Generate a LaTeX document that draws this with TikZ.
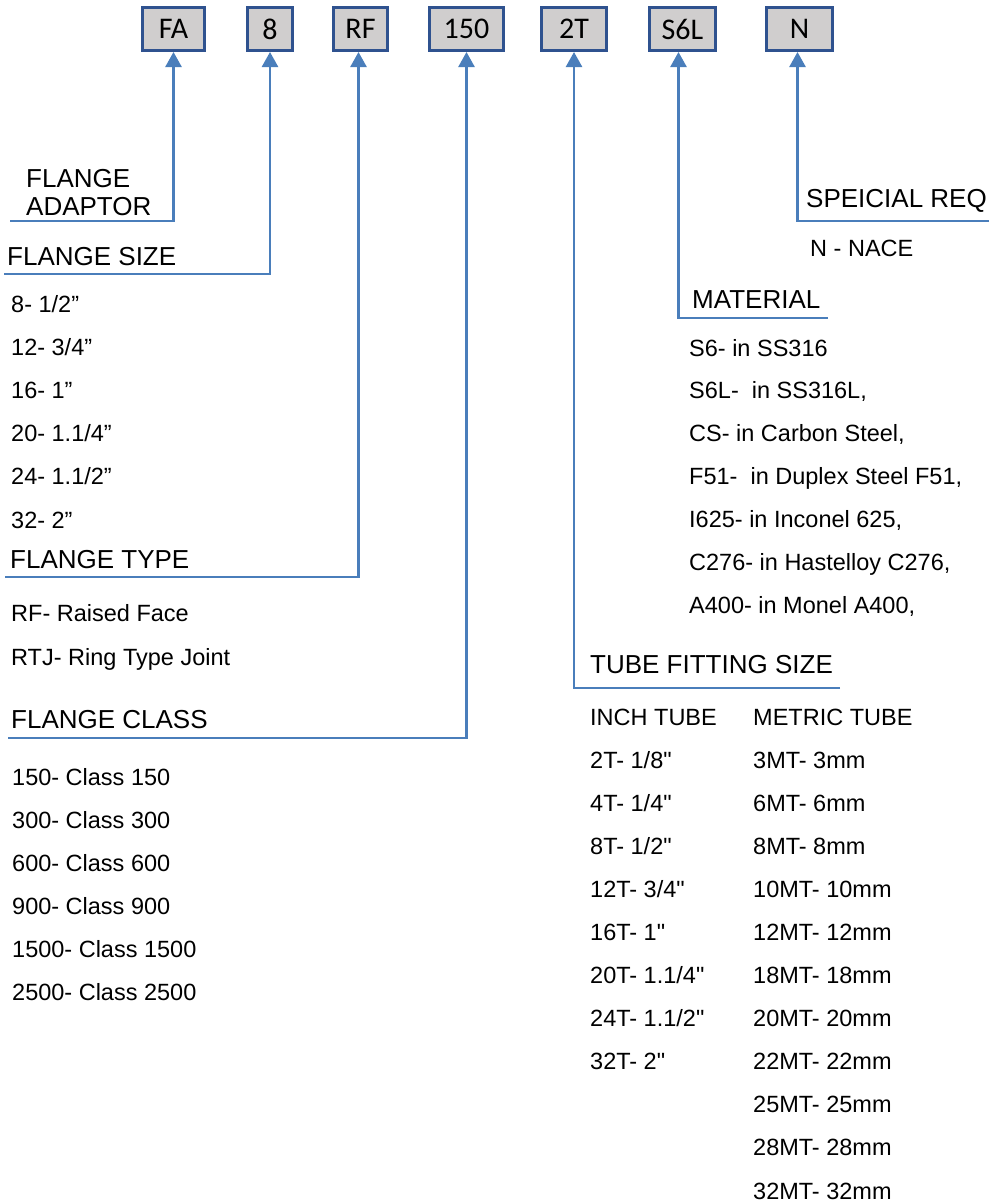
\documentclass[tikz,border=0pt]{standalone}
\usepackage{fontspec}
\usetikzlibrary{arrows.meta}
\newfontfamily\arialf{Liberation Sans}[Ligatures=TeXOff]
\newfontfamily\calf{Carlito}
\definecolor{boxfill}{HTML}{D0CECE}
\definecolor{boxedge}{HTML}{2F528F}
\definecolor{linkblue}{HTML}{4A7EBB}

\begin{document}
\begin{tikzpicture}[x=1pt,y=-1pt,
        codebox/.style={draw=boxedge,line width=3pt,fill=boxfill,minimum height=43pt,inner sep=0pt,font=\calf\fontsize{30}{32}\selectfont},
        link/.style={draw=linkblue,line width=2.5pt,-{Triangle[width=16pt,length=15pt]}},
        head/.style={anchor=base west,inner sep=0pt,align=left,font=\arialf\fontsize{26}{28}\selectfont},
        item/.style={anchor=base west,inner sep=0pt,font=\arialf\fontsize{23.5}{26}\selectfont}]
            \useasboundingbox (0,0) rectangle (1001,1203);
            % code boxes
            \node[codebox,minimum width=62pt] (fa) at (173.5,29) {FA};
            \node[codebox,minimum width=45pt] (sz) at (270,29) {8};
            \node[codebox,minimum width=54pt] (rf) at (360.5,29) {RF};
            \node[codebox,minimum width=74pt] (cl) at (466.5,29) {150};
            \node[codebox,minimum width=65pt] (tt) at (574,29) {2T};
            \node[codebox,minimum width=66pt] (mt) at (682.5,29) {S6L};
            \node[codebox,minimum width=66pt] (nr) at (799.5,29) {N};
            % headings
            \node[head] (hfa) at (26,215) {FLANGE\\ADAPTOR};
            \node[head] (hsz) at (7,265) {FLANGE SIZE};
            \node[head] (hrf) at (10,568) {FLANGE TYPE};
            \node[head] (hcl) at (11,728) {FLANGE CLASS};
            \node[head] (htt) at (590,673) {TUBE FITTING SIZE};
            \node[head] (hmt) at (692,308) {MATERIAL};
            \node[head] (hnr) at (806,207) {SPEICIAL REQ};
            % line ends
            \coordinate (efa) at (10,221);
            \coordinate (esz) at (4,274);
            \coordinate (erf) at (5,577);
            \coordinate (ecl) at (8,738);
            \coordinate (ett) at (840,688);
            \coordinate (emt) at (828,318);
            \coordinate (enr) at (989,221);
            \draw[link] (efa) -| (fa);
            \draw[link] (esz) -| (sz);
            \draw[link] (erf) -| ([xshift=-2pt]rf.south);
            \draw[link] (ecl) -| (cl);
            \draw[link] (ett) -| (tt);
            \draw[link] (emt) -| ([xshift=-4pt]mt.south);
            \draw[link] (enr) -| ([xshift=-2pt]nr.south);
            % lists
            \foreach \t [count=\i] in {8- 1/2”, 12- 3/4”, 16- 1”, 20- 1.1/4”, 24- 1.1/2”, 32- 2”}
                \node[item] (size\i) at (11,{312+43.2*(\i-1)}) {\t};
            \node[item] (type1) at (11,621) {RF- Raised Face};
            \node[item] (type2) at (11,665) {RTJ- Ring Type Joint};
            \foreach \t [count=\i] in {150, 300, 600, 900, 1500, 2500}
                \node[item] (class\i) at (12,{785+43*(\i-1)}) {\t- Class \t};
            \node[item] (nace) at (810,256) {N - NACE};
            \foreach \t [count=\i] in {{S6- in SS316}, {S6L-\ \ in SS316L,}, {CS- in Carbon Steel,}, {F51-\ \ in Duplex Steel F51,}, {I625- in Inconel 625,}, {C276- in Hastelloy C276,}, {A400- in Monel A400,}}
                \node[item] (mat\i) at (689,{356+42.9*(\i-1)}) {\t};
            \node[item] (inch) at (590,725) {INCH TUBE};
            \node[item] (metric) at (753,725) {METRIC TUBE};
            \foreach \t [count=\i] in {2T- 1/8", 4T- 1/4", 8T- 1/2", 12T- 3/4", 16T- 1", 20T- 1.1/4", 24T- 1.1/2", 32T- 2"}
                \node[item] (in\i) at (590,{768+43.1*(\i-1)}) {\t};
            \foreach \t [count=\i] in {3, 6, 8, 10, 12, 18, 20, 22, 25, 28, 32}
                \node[item] (mm\i) at (753,{768+43.1*(\i-1)}) {\t MT- \t mm};
        \end{tikzpicture}
\end{document}
